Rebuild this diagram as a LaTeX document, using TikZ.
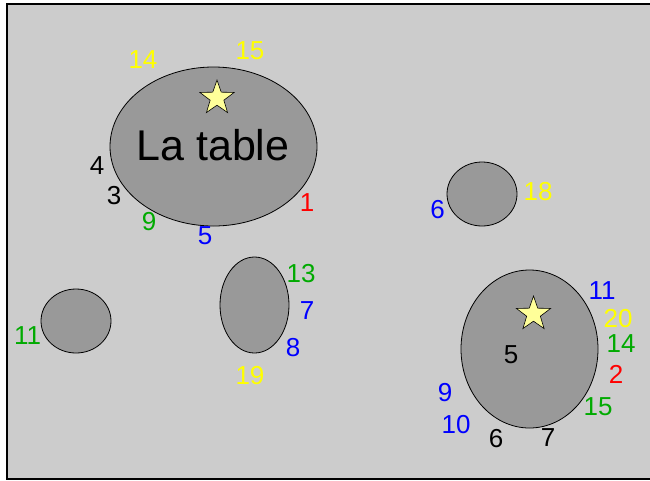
\documentclass[tikz,border=0pt]{standalone}
\usepackage{fontspec}
\setmainfont{Liberation Sans}
\usetikzlibrary{shapes.geometric}
\definecolor{bggray}{HTML}{CCCCCC}
\definecolor{tablegray}{HTML}{999999}
\definecolor{staryellow}{HTML}{FFFF99}
\definecolor{lblyellow}{HTML}{FFFF00}
\definecolor{lblgreen}{HTML}{00AA00}
\definecolor{lblblue}{HTML}{0000FF}
\definecolor{lblred}{HTML}{FF0000}
\tikzset{
  tablenode/.style={ellipse, draw=black, line width=0.8pt, fill=tablegray, inner sep=0pt},
  starnode/.style={star, star points=5, star point ratio=2.5, draw=black, line width=0.6pt, fill=staryellow, inner sep=0pt, minimum size=36pt},
  num/.style={inner sep=0pt, font=\fontsize{26}{26}\selectfont},
  ny/.style={num, text=lblyellow},
  ng/.style={num, text=lblgreen},
  nb/.style={num, text=lblblue},
  nr/.style={num, text=lblred},
  nk/.style={num, text=black},
}
\begin{document}
\begin{tikzpicture}[x=1pt,y=-1pt]
\useasboundingbox (0,0) rectangle (650,480);
\path[fill=bggray, draw=black, line width=1.3pt] (7,4) rectangle (655,479);
% big table
\node[tablenode, minimum width=207pt, minimum height=159pt] (t1) at (213.5,146.5) {};
\node[starnode] (s1) at (217,98) {};
\node[inner sep=0pt, font=\fontsize{43}{43}\selectfont] (lt) at (213,145) {La table};
\node[ny] (a14) at (143,59.5) {14};
\node[ny] (a15) at (250,51) {15};
\node[nk] (a4) at (97,166) {4};
\node[nk] (a3) at (114,196) {3};
\node[ng] (a9) at (149,222) {9};
\node[nb] (a5) at (205,236) {5};
\node[nr] (a1) at (307,203) {1};
% small top-right
\node[tablenode, minimum width=70pt, minimum height=64pt] (t2) at (482,194) {};
\node[nb] (b6) at (437.5,210) {6};
\node[ny] (b18) at (538,192) {18};
% big lower right
\node[tablenode, minimum width=137pt, minimum height=158pt] (t3) at (529.5,349) {};
\node[starnode] (s3) at (533.5,314) {};
\node[nk] (c5) at (511,355) {5};
\node[nb] (c11) at (602,291) {11};
\node[ny] (c20) at (618,319) {20};
\node[ng] (c14) at (621,344) {14};
\node[nr] (c2) at (616,374) {2};
\node[ng] (c15) at (598,407) {15};
\node[nk] (c7) at (548,438) {7};
\node[nk] (c6) at (496,439) {6};
\node[nb] (c10) at (456,425) {10};
\node[nb] (c9) at (445,393) {9};
% small left
\node[tablenode, minimum width=70pt, minimum height=64pt] (t4) at (76,321) {};
\node[ng] (d11) at (27.5,336) {11};
% tall middle
\node[tablenode, minimum width=69pt, minimum height=96pt] (t5) at (254.5,305) {};
\node[ng] (e13) at (301,274) {13};
\node[nb] (e7) at (307,311) {7};
\node[nb] (e8) at (293,348) {8};
\node[ny] (e19) at (250,376) {19};
\end{tikzpicture}
\end{document}
